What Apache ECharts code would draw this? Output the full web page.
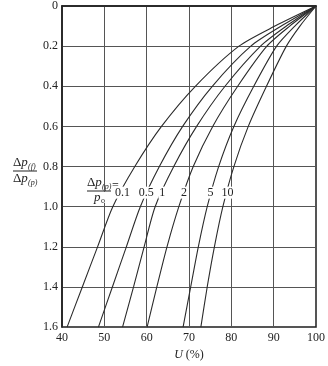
<!DOCTYPE html>
<html>
<head>
<meta charset="utf-8">
<script src="https://cdn.jsdelivr.net/npm/echarts@6/dist/echarts.min.js"></script>
<style>
  html, body { margin: 0; padding: 0; background: #fff; }
  #chart { width: 328px; height: 366px; }
</style>
</head>
<body>
<div id="chart"></div>
<script>
// ratio levels (y axis, inverted: 0 at top)
const yLevels = [0, 0.1, 0.2, 0.4, 0.6, 0.8, 1.0, 1.2, 1.4, 1.6]
// U (%) at the yLevels above
const u01 = [100, 90.3, 81.8, 71.5, 63.5, 57.2, 52.0, 48.4, 44.8, 41.2]
const u05 = [100, 91.8, 84.6, 75.5, 68.5, 63.0, 58.5, 55.2, 51.9, 48.6]
const u1 = [100, 93.0, 86.9, 78.5, 71.8, 66.4, 62.0, 59.4, 56.9, 54.3]
const u2 = [100, 93.8, 88.4, 81.5, 75.6, 71.0, 67.6, 64.8, 62.4, 60.1]
const u5 = [100, 95.0, 90.7, 85.3, 80.6, 77.0, 74.3, 72.2, 70.4, 68.6]
const u10 = [100, 96.2, 93.0, 88.3, 84.0, 80.6, 78.0, 76.0, 74.3, 72.8]
const curveNames = ['0.1', '0.5', '1', '2', '5', '10']
// where each curve's label sits (U at ratio 0.93)
const labelU = [54.3, 59.9, 63.7, 68.8, 75.1, 79.1]
const labelY = 0.93

const FONT = 'Liberation Serif'
const curves = [u01, u05, u1, u2, u5, u10]

const chart = echarts.init(document.getElementById('chart'))

const series = curves.map((u, i) => ({
  name: curveNames[i],
  type: 'line',
  data: yLevels.map((y, j) => [u[j], y]),
  showSymbol: false,
  smooth: 0.25,
  lineStyle: { color: '#2b2b2b', width: 1.1 },
  silent: true,
  z: 3,
  markPoint: {
    symbol: 'rect',
    symbolSize: 1,
    itemStyle: { color: 'transparent' },
    label: {
      show: true,
      position: 'inside',
      formatter: curveNames[i],
      fontFamily: FONT,
      fontSize: 12,
      color: '#222',
      backgroundColor: '#fff',
      padding: [0, 1]
    },
    data: [{ coord: [labelU[i], labelY] }]
  }
}))

chart.setOption({
  backgroundColor: '#fff',
  animation: false,
  grid: {
    left: 62,
    right: 6,
    top: 6,
    bottom: 34,
    show: true,
    borderColor: '#1e1e1e',
    borderWidth: 1.5,
    backgroundColor: 'transparent'
  },
  xAxis: {
    type: 'value',
    min: 40,
    max: 100,
    interval: 10,
    name: '{i|U} (%)',
    nameLocation: 'middle',
    nameGap: 17,
    nameTextStyle: {
      fontFamily: FONT,
      fontSize: 12,
      color: '#222',
      rich: { i: { fontStyle: 'italic', fontFamily: FONT, fontSize: 12, color: '#222' } }
    },
    axisLine: { show: true, lineStyle: { color: '#1e1e1e', width: 1.5 } },
    axisTick: { show: false },
    axisLabel: { fontFamily: FONT, fontSize: 12, color: '#222', margin: 5 },
    splitLine: { show: true, lineStyle: { color: '#555', width: 1 } }
  },
  yAxis: {
    type: 'value',
    inverse: true,
    min: 0,
    max: 1.6,
    interval: 0.2,
    axisLine: { show: true, lineStyle: { color: '#1e1e1e', width: 1.5 } },
    axisTick: { show: false },
    axisLabel: {
      fontFamily: FONT,
      fontSize: 12,
      color: '#222',
      margin: 4,
      formatter: v => (v === 0 ? '0' : v.toFixed(1))
    },
    splitLine: { show: true, lineStyle: { color: '#555', width: 1 } }
  },
  graphic: [
    // y axis title: Δp(f) / Δp(p)
    { type: 'text', left: 13, top: 156, style: { text: '{a|Δ}{b|p}', rich: { a: { fontFamily: FONT, fontSize: 13, fill: '#222' }, b: { fontFamily: FONT, fontSize: 13, fontStyle: 'italic', fill: '#222' } } } },
    { type: 'text', left: 28, top: 163, style: { text: '(f)', fontFamily: FONT, fontSize: 8, fontStyle: 'italic', fill: '#222' } },
    { type: 'line', shape: { x1: 13, y1: 171, x2: 37, y2: 171 }, style: { stroke: '#222', lineWidth: 1 } },
    { type: 'text', left: 13, top: 172, style: { text: '{a|Δ}{b|p}', rich: { a: { fontFamily: FONT, fontSize: 13, fill: '#222' }, b: { fontFamily: FONT, fontSize: 13, fontStyle: 'italic', fill: '#222' } } } },
    { type: 'text', left: 28, top: 179, style: { text: '(p)', fontFamily: FONT, fontSize: 8, fontStyle: 'italic', fill: '#222' } },
    // curve parameter: Δp(p) / p0 =
    { type: 'text', left: 87, top: 176, style: { text: '{a|Δ}{b|p}', rich: { a: { fontFamily: FONT, fontSize: 13, fill: '#222' }, b: { fontFamily: FONT, fontSize: 13, fontStyle: 'italic', fill: '#222' } } } },
    { type: 'text', left: 102, top: 183, style: { text: '(p)', fontFamily: FONT, fontSize: 8, fontStyle: 'italic', fill: '#222' } },
    { type: 'line', shape: { x1: 87, y1: 191, x2: 111, y2: 191 }, style: { stroke: '#222', lineWidth: 1 } },
    { type: 'text', left: 112, top: 180, style: { text: '=', fontFamily: FONT, fontSize: 12, fill: '#222' } },
    { type: 'rect', left: 92, top: 192, shape: { width: 14, height: 11 }, style: { fill: '#fff' }, z: 90 },
    { type: 'text', left: 94, top: 191, z: 100, style: { text: 'p', fontFamily: FONT, fontSize: 13, fontStyle: 'italic', fill: '#222' } },
    { type: 'text', left: 101, top: 197, z: 100, style: { text: 'o', fontFamily: FONT, fontSize: 8, fill: '#222' } }
  ],
  series
})
</script>
</body>
</html>
